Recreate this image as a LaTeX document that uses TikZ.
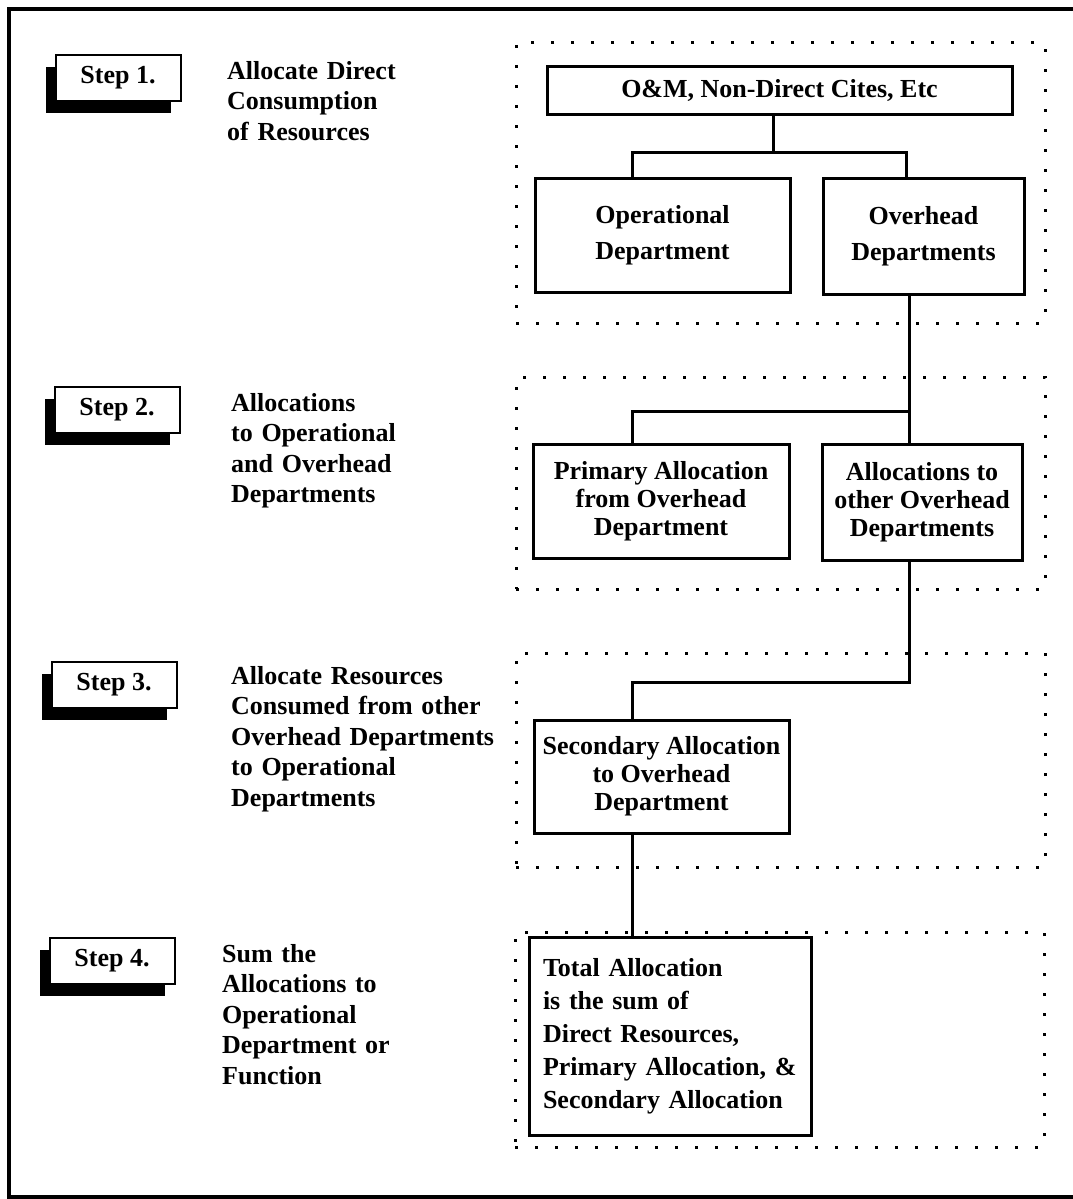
\documentclass[tikz,border=0pt]{standalone}
\usepackage{fontspec}
\setmainfont{Liberation Serif}
\usetikzlibrary{shadows}
\begin{document}
\begin{tikzpicture}[x=1pt,y=-1pt,
  box/.style={draw,line width=3pt,fill=white,inner sep=0pt,align=center,
    font=\fontsize{26}{28}\selectfont\bfseries},
  stepbox/.style={draw,line width=2pt,fill=white,minimum width=125pt,
    minimum height=46pt,inner sep=0pt,font=\fontsize{26}{31}\selectfont\bfseries,
    drop shadow={shadow xshift=-10pt,shadow yshift=-12pt,fill=black,opacity=1}},
  dotframe/.style={draw,line width=3pt,dash pattern=on 3pt off 17pt,inner sep=0pt},
  conn/.style={line width=3pt},
  desc/.style={anchor=base west,align=left,text width=290pt,inner sep=0pt,
    font=\fontsize{26}{30.5}\selectfont\bfseries}
]
\useasboundingbox (0,0) rectangle (1073,1199);
\clip (0,0) rectangle (1073,1199);

% outer frame (runs off the right edge)
\draw[line width=3.5pt] (9,9) rectangle (1100,1197);

% step labels with drop shadows
\node[stepbox] (s1) at (118,78) {Step 1.};
\node[stepbox] (s2) at (117,410) {Step 2.};
\node[stepbox] (s3) at (114,685) {Step 3.};
\node[stepbox] (s4) at (112,961) {Step 4.};

% step descriptions
\node[desc] (t1) at (227,79) {Allocate Direct\\Consumption\\of Resources};
\node[desc] (t2) at (231,411) {Allocations\\to Operational\\and Overhead\\Departments};
\node[desc] (t3) at (231,684) {Allocate Resources\\Consumed from other\\Overhead Departments\\to Operational\\Departments};
\node[desc] (t4) at (222,962) {Sum the\\Allocations to\\Operational\\Department or\\Function};

% dotted step frames
\node[dotframe,minimum width=529pt,minimum height=280pt] (d1) at (780.5,183) {};
\node[dotframe,minimum width=529pt,minimum height=212pt] (d2) at (780.5,483) {};
\node[dotframe,minimum width=529pt,minimum height=214pt] (d3) at (780.5,760) {};
\node[dotframe,minimum width=529pt,minimum height=215pt] (d4) at (779.5,1039.5) {};

% allocation boxes
\node[box,minimum width=465pt,minimum height=47pt] (om) at (779.5,90.5) {O\&M, Non-Direct Cites, Etc};
\node[box,minimum width=255pt,minimum height=114pt,font=\fontsize{26}{36}\selectfont\bfseries] (opdep) at (662.5,235) {Operational\\Department};
\node[box,minimum width=201pt,minimum height=116pt,font=\fontsize{26}{36}\selectfont\bfseries] (ohdep) at (923.5,236) {Overhead\\Departments};
\node[box,minimum width=256pt,minimum height=114pt] (primary) at (661,501) {Primary Allocation\\from Overhead\\Department};
\node[box,minimum width=200pt,minimum height=116pt] (other) at (922,502) {Allocations to\\other Overhead\\Departments};
\node[box,minimum width=255pt,minimum height=113pt] (secondary) at (661.5,776.5) {Secondary Allocation\\to Overhead\\Department};
\node[box,minimum height=198pt,align=left,text width=254pt,inner xsep=14pt,
  font=\fontsize{26}{33}\selectfont\bfseries] (total) at (670,1036)
  {Total Allocation\\is the sum of\\Direct Resources,\\Primary Allocation, \&\\Secondary Allocation};

% connectors
\coordinate (b1) at (773,152);
\coordinate (j1) at (632,152);
\coordinate (j2) at (906,152);
\draw[conn] (om.south -| b1) -- (b1);
\draw[conn] (opdep.north -| j1) -- (j1) -- (j2) -- (ohdep.north -| j2);

\coordinate (j3) at (909,411);
\coordinate (j4) at (632,411);
\draw[conn] (ohdep.south -| j3) -- (other.north -| j3);
\draw[conn] (j3) -- (j4) -- (primary.north -| j4);

\coordinate (j5) at (909,682);
\coordinate (j6) at (632,682);
\draw[conn] (other.south -| j5) -- (j5) -- (j6) -- (secondary.north -| j6);
\draw[conn] (secondary.south -| j6) -- (total.north -| j6);
\end{tikzpicture}
\end{document}
